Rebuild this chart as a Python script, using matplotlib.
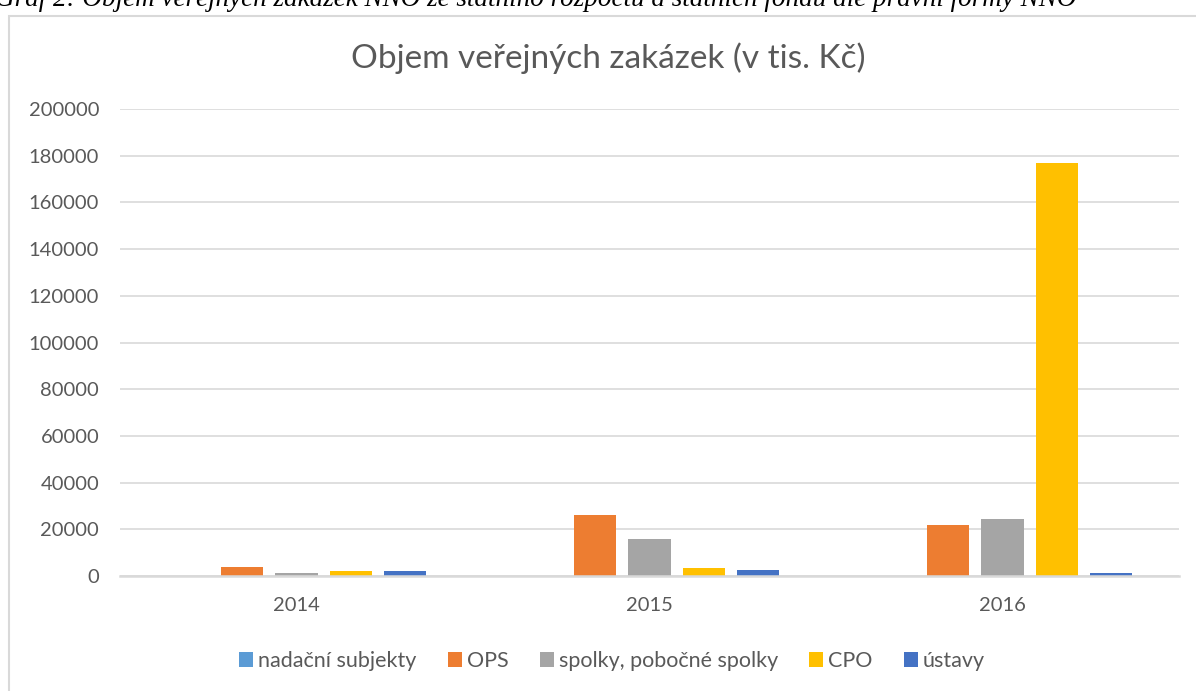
import numpy as np
import matplotlib.pyplot as plt
from matplotlib.patches import Rectangle

# data (tis. Kč)
years = ['2014', '2015', '2016']
series_names = ['nadační subjekty', 'OPS', 'spolky, pobočné spolky', 'CPO', 'ústavy']
nadacni = [0, 0, 0]
ops = [3700, 26000, 22000]
spolky = [1300, 15900, 24600]
cpo = [2100, 3300, 176900]
ustavy = [2200, 2400, 1300]
colors = ['#5b9bd5', '#ed7d31', '#a5a5a5', '#ffc000', '#4472c4']

yticks = np.arange(0, 200001, 20000)

plt.rcParams['font.family'] = ['Lato', 'DejaVu Sans']

W, H = 1196, 691
fig = plt.figure(figsize=(W / 100, H / 100), dpi=100)
ax = fig.add_axes([120 / W, 1 - 576 / H, (1179 - 120) / W, (576 - 109) / H])

values = [nadacni, ops, spolky, cpo, ustavy]
x = np.arange(len(years))
step = 0.153
width = 0.119
for i, (name, vals) in enumerate(zip(series_names, values)):
    ax.bar(x + (i - 2) * step, vals, width, color=colors[i], label=name, zorder=3)

ax.set_xlim(-0.5, 2.5)
ax.set_ylim(0, 200000)
ax.set_yticks(yticks)
ax.set_yticklabels([str(v) for v in yticks])
ax.set_xticks(x)
ax.set_xticklabels(years)
ax.tick_params(axis='both', length=0, labelsize=14.5, colors='#595959')
ax.tick_params(axis='x', pad=15)
ax.tick_params(axis='y', pad=15)
ax.grid(axis='y', color='#d9d9d9', linewidth=1.2, zorder=0)
for s in ['top', 'right', 'left']:
    ax.spines[s].set_visible(False)
ax.spines['bottom'].set_color('#d9d9d9')
ax.spines['bottom'].set_linewidth(1.8)
ax.spines['bottom'].set_zorder(4)

fig.text(608 / W, 1 - 58 / H, 'Objem veřejných zakázek (v tis. Kč)', ha='center', va='center',
         fontsize=24, color='#595959')

leg = fig.legend(loc='center', bbox_to_anchor=(612 / W, 1 - 661 / H), ncol=5, frameon=False,
                 fontsize=15.5, handlelength=0.65, handleheight=0.65, handletextpad=0.23,
                 columnspacing=1.45)
for t in leg.get_texts():
    t.set_color('#595959')

# chart border
fig.patches.append(Rectangle((9 / W, -0.05), 1.2, 1 - 16 / H + 0.05, transform=fig.transFigure,
                             fill=False, edgecolor='#d9d9d9', linewidth=1.5))

# cut-off caption above the chart
fig.text(-5 / W, 1 - 6 / H,
         'Graf 2: Objem veřejných zakázek NNO ze státního rozpočtu a státních fondů dle právní formy NNO',
         ha='left', va='baseline', fontsize=19.5, style='italic', family='Liberation Serif', color='black')

fig.savefig('out.png', dpi=100)
